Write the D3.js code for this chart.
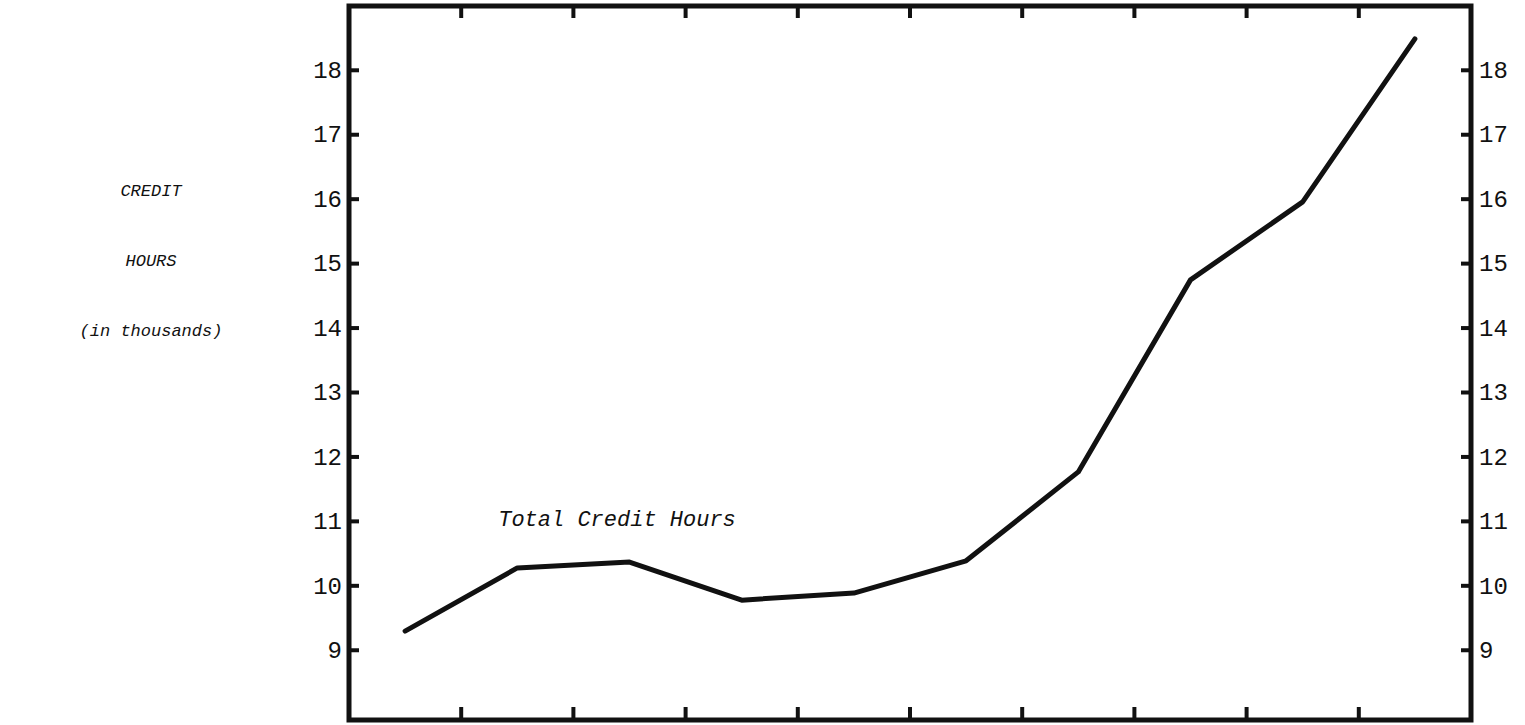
<!DOCTYPE html>
<html>
<head>
<meta charset="utf-8">
<script src="https://cdn.jsdelivr.net/npm/d3@7"></script>
<style>
  body { margin: 0; background: #fff; }
  text { font-family: "Liberation Mono", "Courier New", monospace; fill: #111; }
</style>
</head>
<body>
<div id="chart"></div>
<script>
// periods are not labelled on the original, only spaced evenly
var periods = ["P1", "P2", "P3", "P4", "P5", "P6", "P7", "P8", "P9", "P10"];
var creditHours = [9.29, 10.27, 10.36, 9.77, 9.88, 10.38, 11.76, 14.74, 15.95, 18.48];
var yTicks = [9, 10, 11, 12, 13, 14, 15, 16, 17, 18];
var axisTitle = ["CREDIT", "HOURS", "(in thousands)"];
var seriesLabel = "Total Credit Hours";

var width = 1525,
    height = 725,
    margin = {left: 349, right: 54, top: 6, bottom: 5},
    innerW = width - margin.left - margin.right,
    innerH = height - margin.top - margin.bottom;

var svg = d3.select("#chart").append("svg")
    .attr("width", width)
    .attr("height", height);

var chart = svg.append("g")
    .attr("transform", "translate(" + margin.left + "," + margin.top + ")");

var xScale = d3.scaleBand()
    .domain(periods)
    .range([0, innerW]);

var yScale = d3.scaleLinear()
    .domain([7.91, 18.99])
    .range([innerH, 0]);

// y axes, ticks pointing into the frame
var yLeft = chart.append("g")
    .call(d3.axisLeft(yScale).tickValues(yTicks).tickSizeInner(-10).tickSizeOuter(0).tickPadding(7));
var yRight = chart.append("g")
    .attr("transform", "translate(" + innerW + ",0)")
    .call(d3.axisRight(yScale).tickValues(yTicks).tickSizeInner(-10).tickSizeOuter(0).tickPadding(8));

[yLeft, yRight].forEach(function (ax) {
  ax.select(".domain").remove();
  ax.selectAll("line").attr("stroke", "#111").attr("stroke-width", 4);
  ax.selectAll("text").style("font-size", "24px").attr("fill", "#111");
});

// x ticks on the boundaries between periods, top and bottom
var bounds = periods.slice(1);
chart.selectAll(".xtop").data(bounds).enter().append("line")
    .attr("class", "xtop")
    .attr("x1", function (d) { return xScale(d); })
    .attr("x2", function (d) { return xScale(d); })
    .attr("y1", 0).attr("y2", 12)
    .attr("stroke", "#111").attr("stroke-width", 4);
chart.selectAll(".xbot").data(bounds).enter().append("line")
    .attr("class", "xbot")
    .attr("x1", function (d) { return xScale(d); })
    .attr("x2", function (d) { return xScale(d); })
    .attr("y1", innerH).attr("y2", innerH - 13)
    .attr("stroke", "#111").attr("stroke-width", 4);

// frame
chart.append("rect")
    .attr("x", 0).attr("y", 0)
    .attr("width", innerW).attr("height", innerH)
    .attr("fill", "none")
    .attr("stroke", "#111")
    .attr("stroke-width", 5);

// the line
var line = d3.line()
    .x(function (d, i) { return xScale(periods[i]) + xScale.bandwidth() / 2; })
    .y(function (d) { return yScale(d); });

chart.append("path")
    .datum(creditHours)
    .attr("d", line)
    .attr("fill", "none")
    .attr("stroke", "#111")
    .attr("stroke-width", 5)
    .attr("stroke-linejoin", "round")
    .attr("stroke-linecap", "round");

// series label
chart.append("text")
    .attr("x", xScale(periods[1]) + 37)
    .attr("y", yScale(11) + 5)
    .style("font-size", "22px")
    .style("font-style", "italic")
    .text(seriesLabel);

// left axis title
svg.selectAll(".ytitle").data(axisTitle).enter().append("text")
    .attr("class", "ytitle")
    .attr("x", 151)
    .attr("y", function (d, i) { return 196 + i * 70; })
    .attr("text-anchor", "middle")
    .style("font-size", "17px")
    .style("font-style", "italic")
    .text(function (d) { return d; });
</script>
</body>
</html>
